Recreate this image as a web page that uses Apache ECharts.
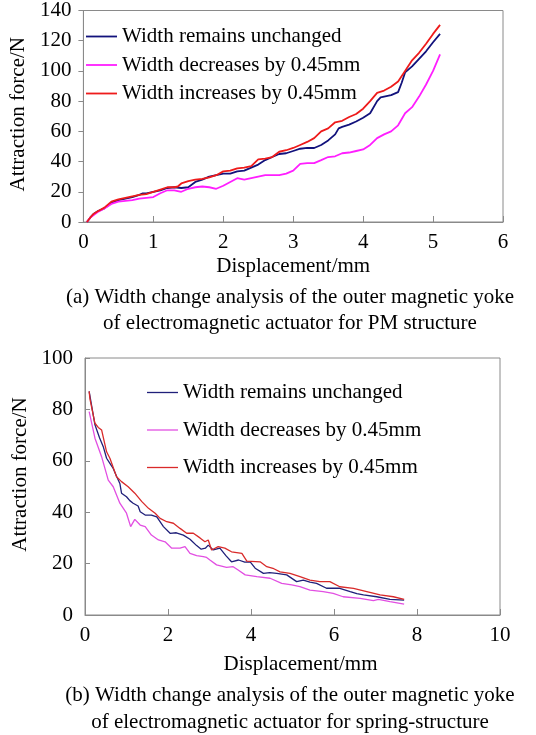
<!DOCTYPE html>
<html>
<head>
<meta charset="utf-8">
<script src="https://cdn.jsdelivr.net/npm/echarts@6/dist/echarts.min.js"></script>
<style>
html,body{margin:0;padding:0;background:#fff;}
#chart{width:536px;height:735px;}
</style>
</head>
<body>
<div id="chart"></div>
<script>
// ---------- labels ----------
var legendNames = ['Width remains unchanged', 'Width decreases by 0.45mm', 'Width increases by 0.45mm'];
var xTitle = 'Displacement/mm';
var yTitle = 'Attraction force/N';
var captionA = ['(a) Width change analysis of the outer magnetic yoke', 'of electromagnetic actuator for PM structure'];
var captionB = ['(b) Width change analysis of the outer magnetic yoke', 'of electromagnetic actuator for spring-structure'];

// ---------- chart (a): PM structure ----------
var aUnchangedX = [0.05,0.1,0.15,0.2,0.3,0.4,0.5,0.6,0.7,0.8,0.85,0.9,1.0,1.1,1.2,1.3,1.4,1.5,1.6,1.7,1.8,1.9,2.0,2.1,2.2,2.3,2.4,2.5,2.6,2.7,2.8,2.9,3.0,3.1,3.2,3.3,3.4,3.5,3.6,3.65,3.7,3.8,3.9,4.0,4.1,4.2,4.25,4.3,4.4,4.5,4.55,4.6,4.7,4.8,4.9,5.0,5.1];
var aUnchangedY = [0,3,5.5,7,9,12.5,14.5,15.5,16.5,18,19,19,20,21,22.5,23,22.5,23,26.5,28,30,31,32,32,33.5,34,36,38,41,43,45,45.5,47,48.5,49,49,51,54,58,62,63,64.5,66.5,69,72,80,82.5,83,84,86,92,99,103,108,113,119,124.5];
var aDecreaseX = [0.05,0.1,0.2,0.3,0.4,0.5,0.6,0.7,0.8,0.9,1.0,1.1,1.2,1.3,1.4,1.5,1.6,1.7,1.8,1.9,2.0,2.1,2.2,2.3,2.4,2.5,2.6,2.7,2.8,2.9,3.0,3.1,3.2,3.3,3.4,3.5,3.6,3.7,3.8,3.9,4.0,4.1,4.2,4.3,4.4,4.5,4.6,4.7,4.8,4.9,5.0,5.1];
var aDecreaseY = [0,3,6.5,9,12,13.5,14,14.5,15.5,16,16.5,19,21,21,20,22,23,23.5,23,22,24,26.5,29,28,29,30,31,31,31,32,34,38.5,39,39,41,43,43.5,45.5,46,47,48,51,55.5,58,60,64,72,76,83,91,100,111];
var aIncreaseX = [0.05,0.1,0.15,0.2,0.3,0.4,0.5,0.6,0.7,0.8,0.9,1.0,1.1,1.2,1.3,1.35,1.4,1.5,1.6,1.7,1.8,1.9,2.0,2.1,2.2,2.3,2.4,2.5,2.6,2.7,2.8,2.9,3.0,3.1,3.2,3.3,3.4,3.5,3.6,3.7,3.8,3.9,4.0,4.1,4.2,4.3,4.4,4.5,4.6,4.7,4.8,4.9,5.0,5.1];
var aIncreaseY = [0,3,5.5,7,9.5,13.5,15,16,17,18,18.5,20,21.5,23,23,23.5,25.5,27,28,28.5,29.5,31,33.5,34,35.5,36,37,41.5,42,43,46.5,47.5,49,51,53,55.5,60,62,66,67,69.5,71.5,75,80,85.5,87,89.5,93,100,107,112,118,124.5,130.5];

// ---------- chart (b): spring structure ----------
var bUnchangedX = [0.1,0.24,0.35,0.44,0.52,0.6,0.68,0.76,0.84,0.88,1.0,1.08,1.16,1.28,1.33,1.45,1.6,1.73,1.89,2.05,2.2,2.37,2.53,2.69,2.8,2.9,2.97,3.09,3.25,3.4,3.53,3.7,3.85,3.98,4.1,4.3,4.45,4.62,4.86,5.1,5.26,5.42,5.58,5.82,6.14,6.39,6.55,6.71,7.03,7.35,7.69];
var bUnchangedY = [87,74,69,65.5,61,59,57,54,51.2,47.4,46,44.5,43.5,42.4,40.2,38.9,38.9,38.2,34.4,31.8,32,31.1,29.5,27,25.6,26,27.2,25.3,26,23,20.7,21.4,20.6,20.7,18.2,16.2,16.5,16.2,15.6,13,13.6,12.8,12.3,10.4,10.4,9.1,8.3,7.8,7.1,6.1,5.8];
var bDecreaseX = [0.1,0.24,0.4,0.56,0.68,0.84,1.0,1.1,1.2,1.33,1.45,1.6,1.77,1.93,2.09,2.29,2.41,2.53,2.69,2.85,2.93,3.01,3.17,3.41,3.57,3.69,3.86,4.14,4.46,4.74,4.98,5.18,5.42,5.74,5.98,6.22,6.63,6.95,7.07,7.35,7.69];
var bDecreaseY = [79.1,68.8,61.6,52.5,49.9,43.5,39.6,34.4,37.2,35,34.4,31.1,29.2,28.5,26,26,26.6,24,23.1,22.7,22.4,21.4,19.5,18.5,18.8,17.5,15.6,14.9,14.3,12.3,11.7,11,9.7,9.1,8.4,7.1,6.5,5.6,6.1,5.2,4.2];
var bIncreaseX = [0.1,0.12,0.24,0.32,0.4,0.52,0.6,0.76,0.88,1.04,1.2,1.37,1.53,1.69,1.81,1.97,2.13,2.29,2.45,2.61,2.77,2.89,2.97,3.05,3.21,3.37,3.53,3.78,3.9,4.22,4.38,4.55,4.7,4.94,5.18,5.42,5.66,5.9,6.14,6.47,6.79,7.11,7.43,7.69];
var bIncreaseY = [87,84,74.6,73,72,63.5,61,53.8,51.9,49.9,47.4,44.1,41.5,39.6,37.6,36.3,35.7,33.7,31.8,31.8,30,28.5,29.2,25.3,26.6,26,24.6,24,21,20.7,18.8,18,16.8,16.2,14.9,13.6,13,13,11,10.4,9.1,7.8,7.1,6.1];

function pairs(xs, ys) { return xs.map(function (x, i) { return [x, ys[i]]; }); }

var FONT = '"Liberation Serif", "Times New Roman", serif';
var AX = '#8a8a8a';
var colorsA = ['#12127c', '#ff1eff', '#ee1b1b'];
var colorsB = ['#20207a', '#e24fe2', '#d92a2a'];

function xAxisCfg(gi, max, interval, nameGap, pad) {
  return {
    type: 'value', gridIndex: gi, min: 0, max: max, interval: interval,
    name: xTitle, nameLocation: 'middle', nameGap: nameGap,
    nameTextStyle: { fontFamily: FONT, fontSize: 21, color: '#000', padding: pad },
    axisLine: { show: true, lineStyle: { color: AX, width: 1 } },
    axisTick: { show: true, inside: true, length: 6, lineStyle: { color: AX } },
    axisLabel: { fontFamily: FONT, fontSize: 21, color: '#000', margin: 10 },
    splitLine: { show: false }
  };
}
function yAxisCfg(gi, max, interval, nameGap, inside, pad) {
  return {
    type: 'value', gridIndex: gi, min: 0, max: max, interval: interval,
    name: yTitle, nameLocation: 'middle', nameGap: nameGap,
    nameTextStyle: { fontFamily: FONT, fontSize: 21, color: '#000', padding: pad },
    axisLine: { show: true, lineStyle: { color: AX, width: 1 } },
    axisTick: { show: true, inside: inside, length: 5, lineStyle: { color: AX } },
    axisLabel: { fontFamily: FONT, fontSize: 21, color: '#000', margin: 12 },
    splitLine: { show: false }
  };
}
function lineSeries(name, xi, data, color, width) {
  return {
    type: 'line', name: name, xAxisIndex: xi, yAxisIndex: xi, data: data,
    symbol: 'none', showSymbol: false, smooth: false, silent: true,
    lineStyle: { color: color, width: width }, itemStyle: { color: color },
    animation: false
  };
}
function legendCfg(left, top, gap, colors, h) {
  return {
    orient: 'vertical', left: left, top: top, itemWidth: 31, itemHeight: h, itemGap: gap,
    icon: 'rect', selectedMode: false, padding: 0,
    textStyle: { fontFamily: FONT, fontSize: 21, color: '#000', lineHeight: 21 },
    data: legendNames.map(function (n, i) { return { name: n, icon: 'rect', itemStyle: { color: colors[i] } }; })
  };
}

var chart = echarts.init(document.getElementById('chart'), null, { renderer: 'canvas' });
chart.setOption({
  backgroundColor: '#fff',
  animation: false,
  grid: [
    { left: 77, top: 10, width: 426, height: 212, show: true, borderColor: AX, borderWidth: 1, backgroundColor: 'transparent' },
    { left: 85, top: 358, width: 415, height: 257, show: true, borderColor: AX, borderWidth: 1, backgroundColor: 'transparent' }
  ],
  xAxis: [xAxisCfg(0, 6, 1, 34, [0, 0, 0, 0]), xAxisCfg(1, 10, 2, 39, [0, 0, 0, 16])],
  yAxis: [yAxisCfg(0, 140, 20, 48, false, [0, 0, 0, 4]), yAxisCfg(1, 100, 20, 46, true, [0, 0, 0, 24])],
  legend: [
    legendCfg(86, 26, 7.5, colorsA, 1.8),
    legendCfg(147, 382, 16.5, colorsB, 1.3)
  ],
  series: [
    lineSeries(legendNames[0], 0, pairs(aUnchangedX, aUnchangedY), colorsA[0], 1.8),
    lineSeries(legendNames[1], 0, pairs(aDecreaseX, aDecreaseY), colorsA[1], 1.8),
    lineSeries(legendNames[2], 0, pairs(aIncreaseX, aIncreaseY), colorsA[2], 1.8),
    lineSeries(legendNames[0], 1, pairs(bUnchangedX, bUnchangedY), colorsB[0], 1.3),
    lineSeries(legendNames[1], 1, pairs(bDecreaseX, bDecreaseY), colorsB[1], 1.3),
    lineSeries(legendNames[2], 1, pairs(bIncreaseX, bIncreaseY), colorsB[2], 1.3)
  ],
  graphic: [
    { type: 'text', x: 290, y: 297, style: { text: captionA[0], font: '21px ' + FONT, fill: '#000', textAlign: 'center', textVerticalAlign: 'middle' } },
    { type: 'text', x: 290, y: 323, style: { text: captionA[1], font: '21px ' + FONT, fill: '#000', textAlign: 'center', textVerticalAlign: 'middle' } },
    { type: 'text', x: 290, y: 695, style: { text: captionB[0], font: '21px ' + FONT, fill: '#000', textAlign: 'center', textVerticalAlign: 'middle' } },
    { type: 'text', x: 290, y: 722, style: { text: captionB[1], font: '21px ' + FONT, fill: '#000', textAlign: 'center', textVerticalAlign: 'middle' } }
  ]
});
</script>
</body>
</html>
